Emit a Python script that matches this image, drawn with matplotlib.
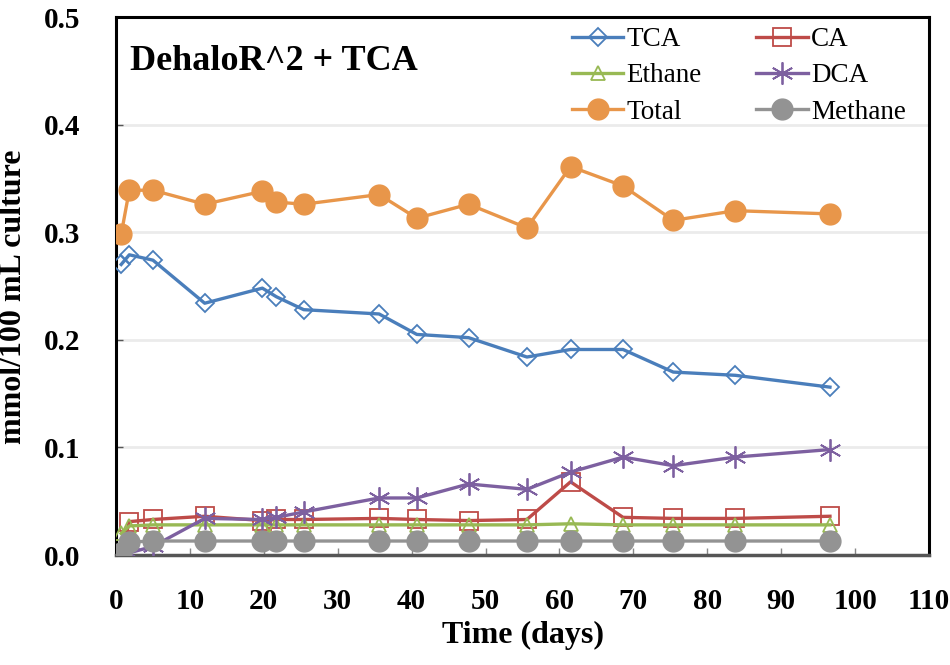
import matplotlib
matplotlib.use("Agg")
import matplotlib.pyplot as plt

days = [0.7, 1.8, 5.0, 12.0, 19.8, 21.7, 25.4, 35.6, 40.7, 47.7, 55.6, 61.5, 68.6, 75.4, 83.8, 96.6]
tca = [0.270, 0.279, 0.274, 0.234, 0.248, 0.240, 0.228, 0.224, 0.205, 0.202, 0.184, 0.191, 0.191, 0.170, 0.167, 0.156]
ca = [0.000, 0.031, 0.033, 0.036, 0.032, 0.033, 0.033, 0.034, 0.033, 0.032, 0.033, 0.068, 0.035, 0.034, 0.034, 0.036]
ethane = [0.020, 0.027, 0.028, 0.028, 0.028, 0.028, 0.028, 0.028, 0.028, 0.028, 0.028, 0.029, 0.028, 0.028, 0.028, 0.028]
dca = [0.000, 0.002, 0.008, 0.034, 0.033, 0.035, 0.040, 0.053, 0.053, 0.066, 0.061, 0.077, 0.091, 0.083, 0.091, 0.098]
total = [0.298, 0.339, 0.339, 0.326, 0.338, 0.328, 0.326, 0.335, 0.313, 0.326, 0.304, 0.361, 0.343, 0.311, 0.320, 0.317]
methane = [0.002, 0.012, 0.013, 0.013, 0.013, 0.013, 0.013, 0.013, 0.013, 0.013, 0.013, 0.013, 0.013, 0.013, 0.013, 0.013]

x_ticks = [0, 10, 20, 30, 40, 50, 60, 70, 80, 90, 100, 110]
y_ticks = [0.0, 0.1, 0.2, 0.3, 0.4, 0.5]
title = "DehaloR^2 + TCA"
xlabel = "Time (days)"
ylabel = "mmol/100 mL culture"

plt.rcParams['font.family'] = ['Liberation Serif', 'DejaVu Serif']

fig = plt.figure(figsize=(9.5, 6.65), dpi=100)
ax = fig.add_axes([116/950, 1-555/665, 813/950, 538/665])

lw = 2.4
h_tca, = ax.plot(days, tca, color='#4A7EBB', lw=lw, marker='D', ms=9.5, mfc='none', mec='#4A7EBB', mew=1.3, label='TCA', zorder=3)
h_ca, = ax.plot(days, ca, color='#BE4B48', lw=lw, marker='s', ms=12.5, mfc='none', mec='#BE4B48', mew=1.3, label='CA', zorder=3)
h_eth, = ax.plot(days, ethane, color='#98B954', lw=lw, marker='^', ms=10.5, mfc='none', mec='#98B954', mew=1.3, label='Ethane', zorder=3)
h_dca, = ax.plot(days, dca, color='#7D60A0', lw=lw, marker=(6, 2, 0), ms=16, mec='#7D60A0', mew=1.3, label='DCA', zorder=3)
h_tot, = ax.plot(days, total, color='#E8964A', lw=lw, marker='o', ms=15, mfc='#E8964A', mec='#E8964A', label='Total', zorder=3)
h_met, = ax.plot(days, methane, color='#939393', lw=lw, marker='o', ms=15, mfc='#939393', mec='#939393', label='Methane', zorder=3)

ax.set_xlim(0, 110)
ax.set_ylim(0, 0.5)
ax.set_xticks(x_ticks)
ax.set_yticks(y_ticks)
ax.set_yticklabels([f"{v:.1f}" for v in y_ticks])
ax.yaxis.grid(True, color='#EBEBEB', lw=2, zorder=0)
ax.set_axisbelow(True)
for lbl in ax.get_xticklabels() + ax.get_yticklabels():
    lbl.set_fontweight('bold')
ax.tick_params(axis='x', direction='in', length=5, width=1, color='#888888', labelsize=21, pad=24)
ax.tick_params(axis='y', direction='in', length=5, width=1, color='#555555', labelsize=21, pad=26)
for s in ['top', 'right', 'left']:
    ax.spines[s].set_color('black')
    ax.spines[s].set_linewidth(2.2)
ax.spines['bottom'].set_color('#555555')
ax.spines['bottom'].set_linewidth(2.5)

ax.set_xlabel(xlabel, fontsize=23, fontweight='bold', labelpad=4)
ax.set_ylabel(ylabel, fontsize=23, fontweight='bold', labelpad=12)
ax.yaxis.set_label_coords(-0.108, 0.48)

ax.text(0.017, 0.918, title, transform=ax.transAxes, fontsize=26, fontweight='bold', va='center', ha='left')

handles = [h_tca, h_eth, h_tot, h_ca, h_dca, h_met]
fig.legend(handles=handles, labels=[h.get_label() for h in handles], ncol=2, frameon=False,
           loc='upper left', bbox_to_anchor=(572/950, 1-27/665), fontsize=19.5,
           handlelength=1.9, handletextpad=0.12, labelspacing=0.42, columnspacing=2.0,
           borderpad=0, borderaxespad=0)

fig.savefig("out.png", dpi=100)
